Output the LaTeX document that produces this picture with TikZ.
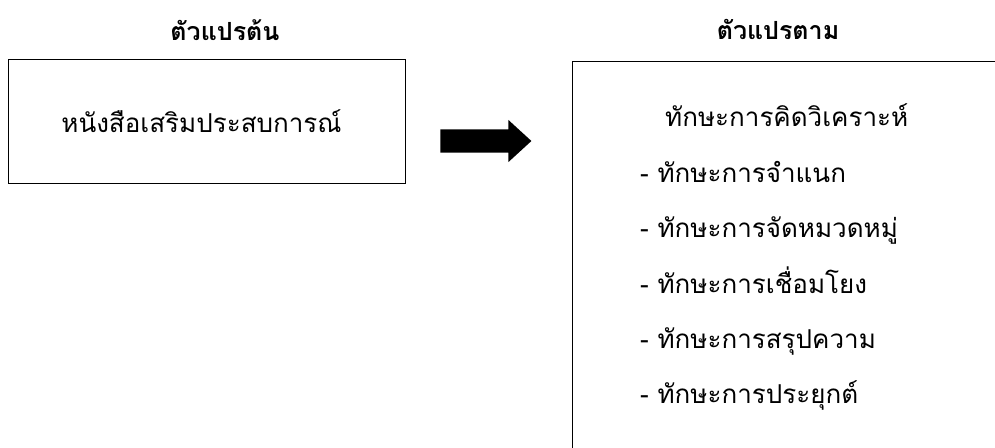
\documentclass[tikz,border=0pt]{standalone}
\usepackage{fontspec}
\newfontfamily\thaifont[Script=Thai]{Loma}
\usetikzlibrary{shapes,arrows,positioning,calc}
\tikzstyle{block} = [rectangle, draw, line width=1pt, inner sep=0pt]
\tikzstyle{heading} = [inner sep=0pt, anchor=base, font=\thaifont\bfseries\fontsize{25}{29}\selectfont]
\tikzstyle{thtext} = [inner sep=0pt, anchor=base west, font=\thaifont\fontsize{26}{31}\selectfont]

\begin{document}
\begin{tikzpicture}[x=1pt, y=-1pt]
    \useasboundingbox (0,0) rectangle (995,447);
    \clip (0,0) rectangle (995,447);
    % titles
    \node[heading] (ivtitle) at (225,40) {ตัวแปรต้น};
    \node[heading] (dvtitle) at (778,39) {ตัวแปรตาม};
    % boxes
    \node[block, minimum width=397pt, minimum height=124pt] (ivbox) at (206.5,121) {};
    \node[block, anchor=north west, minimum width=500pt, minimum height=450pt] (dvbox) at (572,61) {};
    \node[thtext, anchor=base] (ivtext) at (201.5,132) {หนังสือเสริมประสบการณ์};
    % arrow
    \node[single arrow, fill=black, inner xsep=0pt, inner ysep=11.5pt, minimum height=91pt,
          single arrow head extend=9.5pt, single arrow tip angle=85] (flow) at (479.5,141) {};
    % dependent variables
    \node[thtext] (skill) at (665,126) {ทักษะการคิดวิเคราะห์};
    \node[thtext] (s1) at (640,182) {- ทักษะการจำแนก};
    \node[thtext] (s2) at (640,237) {- ทักษะการจัดหมวดหมู่};
    \node[thtext] (s3) at (640,293) {- ทักษะการเชื่อมโยง};
    \node[thtext] (s4) at (640,348) {- ทักษะการสรุปความ};
    \node[thtext] (s5) at (640,403) {- ทักษะการประยุกต์};
\end{tikzpicture}
\end{document}
